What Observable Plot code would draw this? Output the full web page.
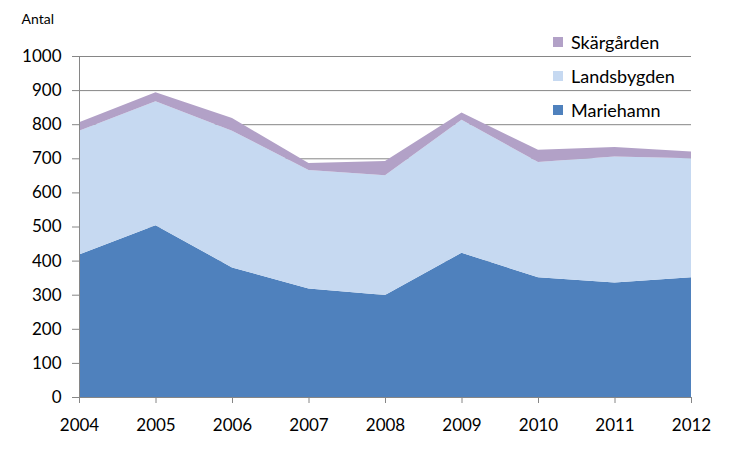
<!DOCTYPE html>
<html><head><meta charset="utf-8">
<script src="https://cdn.jsdelivr.net/npm/d3@7"></script>
<script src="https://cdn.jsdelivr.net/npm/@observablehq/plot@0.6"></script>
<style>
body{margin:0;background:#fff;font-family:Lato,"Open Sans",sans-serif;}
#wrap{position:relative;width:750px;height:450px;}
#legend{position:absolute;left:553px;top:25px;font-size:18px;color:#000;}
.li{display:flex;align-items:center;height:34px;}
.sw{width:10px;height:10px;margin-right:8px;}
</style></head>
<body><div id="wrap"><div id="legend"></div></div>
<script>
const years = [2004,2005,2006,2007,2008,2009,2010,2011,2012];
const seriesNames = ["Mariehamn","Landsbygden","Skärgården"];
const colors = ["#4F81BD","#C6D9F1","#B2A1C7"];
const mariehamn   = [418,504,380,318,299,423,351,336,351];
const landsbygden = [363,363,401,348,351,390,338,369,349];
const skargarden  = [25,27,37,20,42,21,36,28,20];
const yTicks = [0,100,200,300,400,500,600,700,800,900,1000];
const yLabel = "Antal";

const valuesBySeries = [mariehamn, landsbygden, skargarden];
const data = [];
seriesNames.forEach((s,i)=>years.forEach((y,j)=>data.push({year:y, series:s, value:valuesBySeries[i][j]})));

const grid = "#868686";
const chart = Plot.plot({
  width:750, height:450,
  marginLeft:79, marginRight:59, marginTop:56, marginBottom:53,
  style:{fontFamily:"Lato, 'Open Sans', sans-serif", fontSize:"17px", color:"#000"},
  x:{domain:[years[0], years[years.length-1]]},
  y:{domain:[0,1000]},
  color:{domain:seriesNames, range:colors},
  marks:[
    Plot.gridY(yTicks.filter(d=>d>0), {stroke:grid, strokeOpacity:1, strokeWidth:1}),
    Plot.areaY(data, Plot.stackY({order:null}, {x:"year", y:"value", z:"series", fill:"series", fillOpacity:1, curve:"linear"})),
    Plot.axisY({ticks:yTicks, tickSize:7, tickPadding:11, tickFormat:d=>String(d), stroke:grid, label:null, fontSize:17}),
    Plot.axisX({ticks:years, tickSize:6, tickPadding:15, tickFormat:d=>String(d), stroke:grid, label:null, fontSize:17}),
    Plot.ruleX([years[0]], {stroke:grid}),
    Plot.ruleY([0], {stroke:grid}),
    Plot.text([yLabel], {frameAnchor:"top-left", dx:-58, dy:-42, fontSize:14, textAnchor:"start"})
  ]
});
document.getElementById("wrap").appendChild(chart);
chart.style.position="absolute"; chart.style.left="0"; chart.style.top="0";
const lg = document.getElementById("legend");
[2,1,0].forEach(i=>{
  const d=document.createElement("div"); d.className="li";
  d.innerHTML=`<span class="sw" style="background:${colors[i]}"></span><span>${seriesNames[i]}</span>`;
  lg.appendChild(d);
});
</script></body></html>
